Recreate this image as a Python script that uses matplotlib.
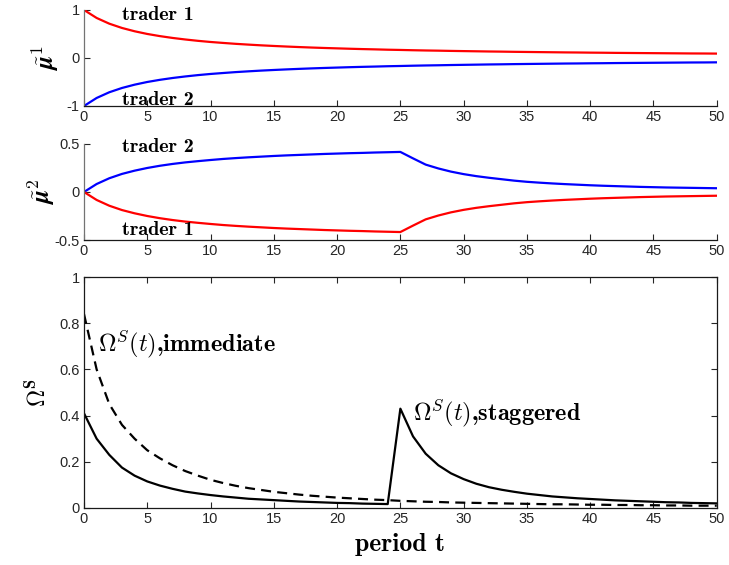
import matplotlib
matplotlib.use("Agg")
import matplotlib.pyplot as plt

plt.rcParams["mathtext.fontset"] = "cm"
plt.rcParams["font.family"] = ["Liberation Sans", "DejaVu Sans"]

# periods 0..50
period = list(range(51))

mu1_trader1 = [1.0, .833, .714, .625, .556, .5, .455, .417, .385, .357, .333, .313, .294, .278, .263,
               .25, .238, .227, .217, .208, .2, .192, .185, .179, .172, .167, .161, .156, .152, .147,
               .143, .139, .135, .132, .128, .125, .122, .119, .116, .114, .111, .109, .106, .104,
               .102, .1, .098, .096, .094, .093, .091]
mu1_trader2 = [-1.0, -.833, -.714, -.625, -.556, -.5, -.455, -.417, -.385, -.357, -.333, -.313, -.294,
               -.278, -.263, -.25, -.238, -.227, -.217, -.208, -.2, -.192, -.185, -.179, -.172, -.167,
               -.161, -.156, -.152, -.147, -.143, -.139, -.135, -.132, -.128, -.125, -.122, -.119,
               -.116, -.114, -.111, -.109, -.106, -.104, -.102, -.1, -.098, -.096, -.094, -.093, -.091]

mu2_trader2 = [0, .083, .143, .188, .222, .25, .273, .292, .308, .321, .333, .344, .353, .361, .368,
               .375, .381, .386, .391, .396, .4, .404, .407, .411, .414, .417, .35, .285, .245, .212,
               .186, .165, .148, .133, .118, .106, .097, .089, .082, .076, .07, .065, .061, .057,
               .053, .05, .047, .045, .043, .041, .039]
mu2_trader1 = [0, -.083, -.143, -.188, -.222, -.25, -.273, -.292, -.308, -.321, -.333, -.344, -.353,
               -.361, -.368, -.375, -.381, -.386, -.391, -.396, -.4, -.404, -.407, -.411, -.414, -.417,
               -.35, -.285, -.245, -.212, -.186, -.165, -.148, -.133, -.118, -.106, -.097, -.089,
               -.082, -.076, -.07, -.065, -.061, -.057, -.053, -.05, -.047, -.045, -.043, -.041, -.039]

omega_immediate = [.84, .6, .45, .36, .3, .25, .215, .185, .16, .14, .122, .108, .096, .086, .078,
                   .07, .064, .058, .053, .049, .045, .042, .039, .036, .034, .031, .029, .027, .026,
                   .024, .023, .022, .021, .02, .019, .018, .017, .016, .016, .015, .014, .014, .013,
                   .013, .012, .012, .011, .011, .01, .01, .01]
omega_staggered = [.41, .3, .23, .175, .14, .115, .097, .083, .071, .063, .056, .05, .045, .04, .037,
                   .034, .031, .028, .026, .024, .022, .021, .019, .018, .017, .43, .31, .235, .185,
                   .15, .125, .105, .09, .079, .07, .062, .056, .05, .046, .042, .039, .036, .033,
                   .031, .029, .027, .025, .024, .022, .021, .02]

x_ticks = list(range(0, 51, 5))


def style_axes(ax, box):
    ax.set_xlim(0, 50)
    ax.set_xticks(x_ticks)
    ax.tick_params(direction="in", length=4, width=0.8, labelsize=10.5, colors="0.15",
                   top=box, right=box, pad=3)
    for side in ["top", "right"]:
        ax.spines[side].set_visible(box)
    for sp in ax.spines.values():
        sp.set_linewidth(0.9)
        sp.set_color("0.1")
    if not box:
        ax.spines["left"].set_color("0.45")


def fmt(v):
    return f"{v:g}"


fig = plt.figure(figsize=(7.29, 5.65), dpi=100)
ax1 = fig.add_axes([0.1152, 0.8124, 0.868, 0.170])
ax2 = fig.add_axes([0.1152, 0.5752, 0.868, 0.170])
ax3 = fig.add_axes([0.1152, 0.1009, 0.868, 0.4088])

# plain text in Computer Modern bold, math in cm
trader_kw = dict(fontsize=14.5, va="baseline", ha="left", family="cmb10")
omega_kw = dict(fontsize=17.5, va="baseline", ha="left", family="cmb10")

# mu tilde 1
ax1.plot(period, mu1_trader1, color="#ff0000", lw=1.6)
ax1.plot(period, mu1_trader2, color="#0000ff", lw=1.6)
ax1.set_ylim(-1, 1)
ax1.set_yticks([-1, 0, 1])
ax1.set_yticklabels([fmt(v) for v in [-1, 0, 1]])
style_axes(ax1, False)
ax1.text(3, 0.79, "trader 1", **trader_kw)
ax1.text(3, -0.98, "trader 2", clip_on=False, **trader_kw)
ax1.set_ylabel(r"$\tilde{\boldsymbol{\mu}}^{\mathbf{1}}$", fontsize=18, labelpad=4)

# mu tilde 2
ax2.plot(period, mu2_trader2, color="#0000ff", lw=1.6)
ax2.plot(period, mu2_trader1, color="#ff0000", lw=1.6)
ax2.set_ylim(-0.5, 0.5)
ax2.set_yticks([-0.5, 0, 0.5])
ax2.set_yticklabels([fmt(v) for v in [-0.5, 0, 0.5]])
style_axes(ax2, False)
ax2.text(3, 0.417, "trader 2", **trader_kw)
ax2.text(3, -0.448, "trader 1", **trader_kw)
ax2.set_ylabel(r"$\tilde{\boldsymbol{\mu}}^{\mathbf{2}}$", fontsize=18, labelpad=-2)

# Omega^S
ax3.plot(period, omega_immediate, color="black", lw=1.6, ls=(0, (4.5, 2.8)))
ax3.plot(period, omega_staggered, color="black", lw=1.6)
ax3.set_ylim(0, 1)
y3 = [0, 0.2, 0.4, 0.6, 0.8, 1]
ax3.set_yticks(y3)
ax3.set_yticklabels([fmt(v) for v in y3])
style_axes(ax3, True)
ax3.text(1.1, 0.675, r"$\Omega^{S}(t)$,immediate", **omega_kw)
ax3.text(26.0, 0.374, r"$\Omega^{S}(t)$,staggered", **omega_kw)
ax3.set_ylabel(r"$\mathbf{\Omega}^{\mathbf{S}}$", fontsize=17, labelpad=6)
ax3.set_xlabel("period t", fontsize=18.5, family="cmb10", labelpad=5)

fig.savefig("out.png", dpi=100)
